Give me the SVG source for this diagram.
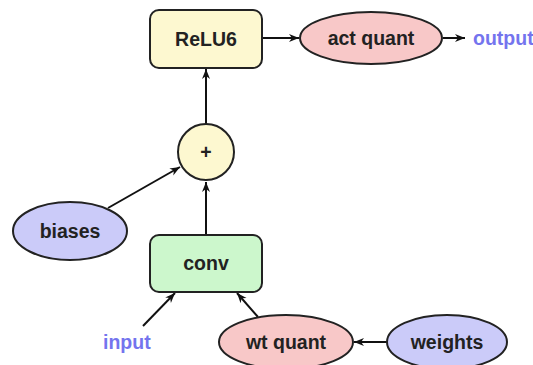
<svg xmlns="http://www.w3.org/2000/svg" width="533" height="365" viewBox="0 0 533 365">
<defs>
<marker id="ah" markerWidth="11" markerHeight="11" refX="10" refY="5.5" orient="auto" markerUnits="userSpaceOnUse">
<path d="M0,1.5 L10,5.5 L0,9.5 L3,5.5 Z" fill="#111"/>
</marker>
<style>
.n{stroke:#222;stroke-width:2}
.y{fill:#fdf8d0}
.r{fill:#f8c8c8}
.b{fill:#cbcbf9}
.g{fill:#ccf7cc}
.t{font-family:"Liberation Sans",Arial,sans-serif;font-weight:bold;font-size:19.5px;fill:#222;text-anchor:middle;dominant-baseline:central}
.io{font-family:"Liberation Sans",Arial,sans-serif;font-weight:bold;font-size:19.5px;fill:#7474ee;dominant-baseline:central}
.c{stroke:#111;stroke-width:2;fill:none;marker-end:url(#ah)}
</style>
</defs>
<rect width="533" height="365" fill="#fff"/>
<g id="connectors">
<line class="c" x1="262" y1="38" x2="299" y2="38"/>
<line class="c" x1="443" y1="38" x2="465" y2="38"/>
<line class="c" x1="206" y1="124" x2="206" y2="69"/>
<line class="c" x1="108" y1="208" x2="180" y2="167"/>
<line class="c" x1="206" y1="235" x2="206" y2="182"/>
<line class="c" x1="143" y1="326" x2="175" y2="293"/>
<line class="c" x1="258" y1="317" x2="237" y2="293"/>
<line class="c" x1="387" y1="342" x2="354" y2="342"/>
</g>
<g id="relu6"><rect class="n y" x="150" y="10" width="112" height="58" rx="9"/><text class="t" x="206" y="39">ReLU6</text></g>
<g id="actquant"><ellipse class="n r" cx="371" cy="38" rx="71" ry="26"/><text class="t" x="371" y="38">act quant</text></g>
<g id="output"><text class="io" x="473" y="38">output</text></g>
<g id="plus"><circle class="n y" cx="206" cy="152" r="28"/><text class="t" x="206" y="152">+</text></g>
<g id="biases"><ellipse class="n b" cx="70" cy="231" rx="57" ry="29"/><text class="t" x="70" y="231">biases</text></g>
<g id="conv"><rect class="n g" x="150" y="235" width="112" height="57" rx="9"/><text class="t" x="206" y="263">conv</text></g>
<g id="input"><text class="io" x="103" y="342">input</text></g>
<g id="wtquant"><ellipse class="n r" cx="286" cy="342" rx="67" ry="27"/><text class="t" x="286" y="342">wt quant</text></g>
<g id="weights"><ellipse class="n b" cx="447" cy="342" rx="60" ry="27"/><text class="t" x="447" y="342">weights</text></g>
</svg>
